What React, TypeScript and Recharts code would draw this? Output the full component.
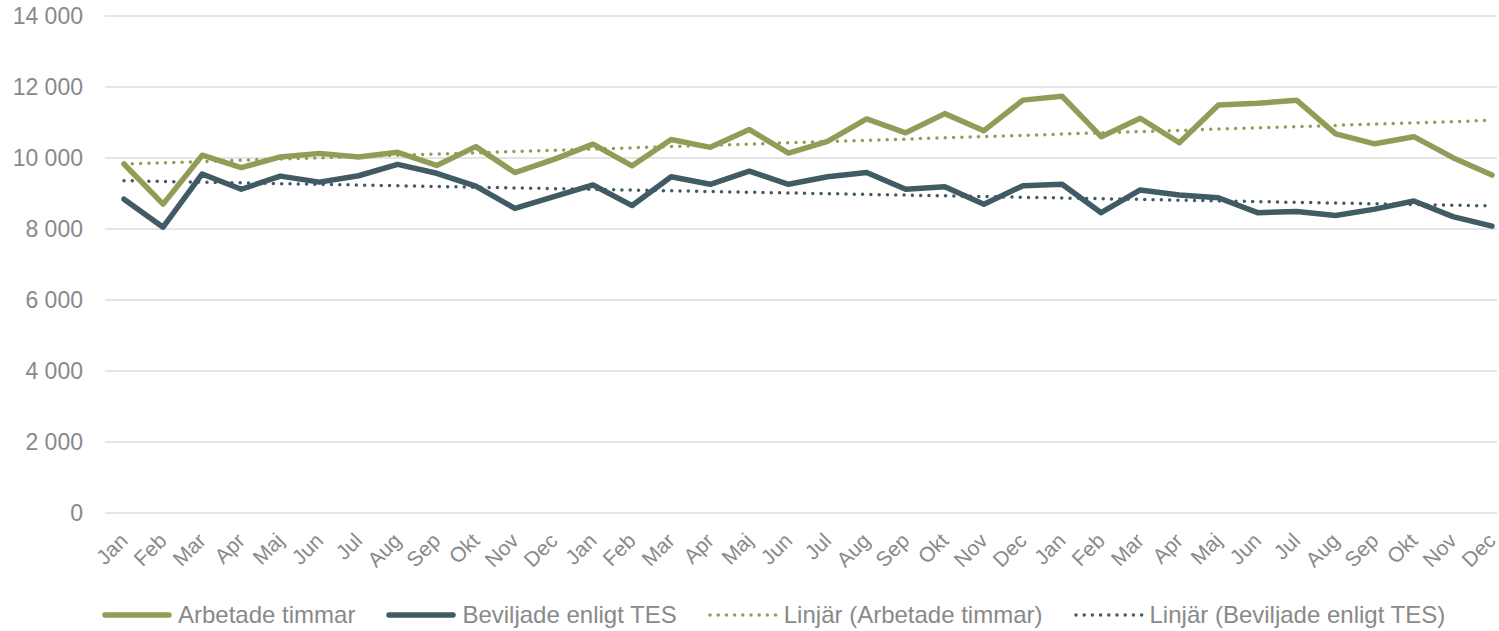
import { LineChart, Line, XAxis, YAxis, CartesianGrid, Legend } from 'recharts';

const months = ['Jan', 'Feb', 'Mar', 'Apr', 'Maj', 'Jun', 'Jul', 'Aug', 'Sep', 'Okt', 'Nov', 'Dec'];
// tre år i följd
const categories = [...months, ...months, ...months];

const arbetadeTimmar = [
  9830, 8700, 10080, 9730, 10030, 10130, 10030, 10160, 9790, 10320, 9590, 9960,
  10390, 9780, 10520, 10300, 10800, 10140, 10470, 11100, 10710, 11250, 10770, 11630,
  11740, 10600, 11120, 10430, 11490, 11540, 11630, 10680, 10400, 10600, 10010, 9520,
];

const beviljadeTES = [
  8840, 8050, 9550, 9120, 9490, 9320, 9500, 9820, 9570, 9210, 8580, 8910,
  9240, 8660, 9470, 9260, 9630, 9260, 9470, 9590, 9120, 9190, 8700, 9220,
  9260, 8460, 9100, 8960, 8880, 8460, 8490, 8380, 8560, 8790, 8350, 8080,
];

// trendlinjer: värde vid första och sista månaden
const trendArbetade = [9830, 11060];
const trendBeviljade = [9360, 8650];

const yTicks = [0, 2000, 4000, 6000, 8000, 10000, 12000, 14000];

const OLIVE = '#919D56';
const SLATE = '#405B63';
const TEXT = '#898989';
const FONT = '"Liberation Sans", Arial, sans-serif';

const last = categories.length - 1;
const data = categories.map((month, i) => ({
  month,
  arbetade: arbetadeTimmar[i],
  beviljade: beviljadeTES[i],
  trendA: i === 0 ? trendArbetade[0] : i === last ? trendArbetade[1] : null,
  trendB: i === 0 ? trendBeviljade[0] : i === last ? trendBeviljade[1] : null,
}));

const legendItems = [
  { name: 'Arbetade timmar', color: OLIVE, dotted: false },
  { name: 'Beviljade enligt TES', color: SLATE, dotted: false },
  { name: 'Linjär (Arbetade timmar)', color: OLIVE, dotted: true },
  { name: 'Linjär (Beviljade enligt TES)', color: SLATE, dotted: true },
];

const formatThousands = (v: number) => String(v).replace(/\B(?=(\d{3})+(?!\d))/g, ' ');

function MonthTick({ x, y, payload }: any) {
  const tx = x + 5;
  const ty = y + 29;
  return (
    <text
      x={tx}
      y={ty}
      textAnchor="end"
      transform={`rotate(-45 ${tx} ${ty})`}
      fill={TEXT}
      fontSize={21}
      fontFamily={FONT}
    >
      {payload.value}
    </text>
  );
}

function ChartLegend() {
  return (
    <div style={{ display: 'flex', alignItems: 'center', height: 32, paddingLeft: 102, fontFamily: FONT, fontSize: 24, color: TEXT }}>
      {legendItems.map((item, i) => (
        <div key={item.name} style={{ display: 'flex', alignItems: 'center', marginLeft: i === 0 ? 0 : 31 }}>
          <svg width={70} height={10} style={{ marginRight: 6 }}>
            {item.dotted ? (
              <line x1={2} y1={5} x2={68} y2={5} stroke={item.color} strokeWidth={3.5} strokeDasharray="0 8.2" strokeLinecap="round" />
            ) : (
              <line x1={3} y1={5} x2={67} y2={5} stroke={item.color} strokeWidth={5.5} strokeLinecap="round" />
            )}
          </svg>
          <span style={{ whiteSpace: 'nowrap' }}>{item.name}</span>
        </div>
      ))}
    </div>
  );
}

export default function App() {
  return (
    <div style={{ position: 'absolute', left: 0, top: 0, width: 1499, height: 631, overflow: 'hidden', background: '#fff' }}>
      <LineChart width={1499} height={631} data={data} margin={{ top: 16, right: 2, left: 0, bottom: 0 }}>
        <CartesianGrid vertical={false} stroke="#E5E5E5" strokeWidth={2} />
        <XAxis
          dataKey="month"
          axisLine={false}
          tickLine={false}
          tickSize={0}
          tickMargin={0}
          interval={0}
          height={86}
          padding={{ left: 19, right: 5 }}
          tick={<MonthTick />}
        />
        <YAxis
          domain={[0, 14000]}
          ticks={yTicks}
          axisLine={false}
          tickLine={false}
          tickSize={0}
          tickMargin={22}
          width={105}
          tickFormatter={formatThousands}
          tick={{ fill: TEXT, fontSize: 23, fontFamily: FONT }}
        />
        <Legend verticalAlign="bottom" content={<ChartLegend />} wrapperStyle={{ left: 0, bottom: 0, width: 1499 }} />
        <Line
          dataKey="trendA"
          stroke={OLIVE}
          strokeWidth={3.5}
          strokeDasharray="0 8.3"
          strokeLinecap="round"
          dot={false}
          connectNulls
          isAnimationActive={false}
        />
        <Line
          dataKey="trendB"
          stroke={SLATE}
          strokeWidth={3.5}
          strokeDasharray="0 8.3"
          strokeLinecap="round"
          dot={false}
          connectNulls
          isAnimationActive={false}
        />
        <Line
          dataKey="arbetade"
          name="Arbetade timmar"
          stroke={OLIVE}
          strokeWidth={5.5}
          strokeLinejoin="round"
          strokeLinecap="round"
          dot={false}
          isAnimationActive={false}
        />
        <Line
          dataKey="beviljade"
          name="Beviljade enligt TES"
          stroke={SLATE}
          strokeWidth={5.5}
          strokeLinejoin="round"
          strokeLinecap="round"
          dot={false}
          isAnimationActive={false}
        />
      </LineChart>
    </div>
  );
}
